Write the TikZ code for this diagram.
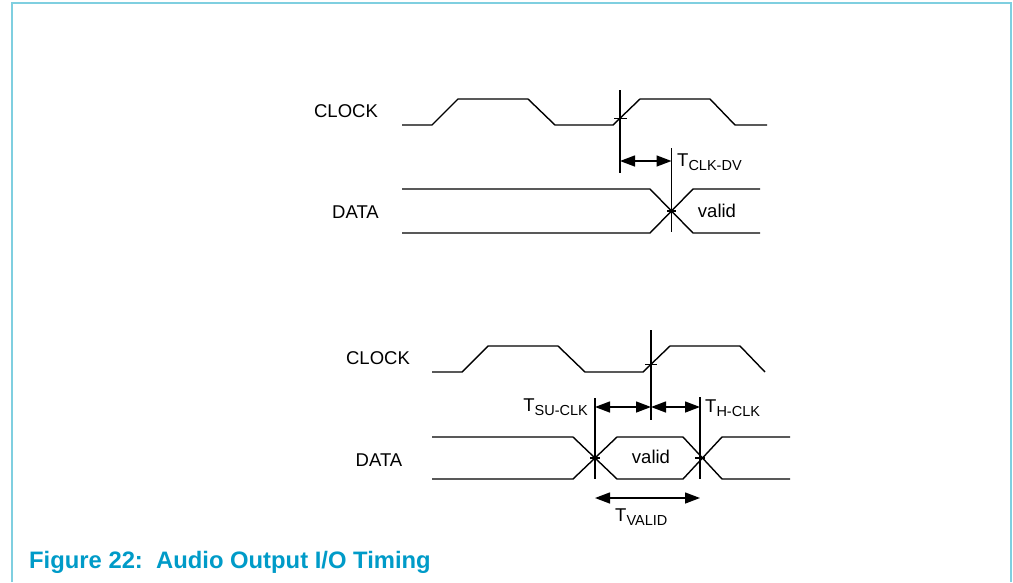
\documentclass[tikz,border=0pt]{standalone}
\usepackage{fontspec}
\setmainfont{Liberation Sans}
\usepackage{tikz}
\usetikzlibrary{arrows.meta}
\definecolor{framecyan}{RGB}{127,207,224}
\definecolor{titleblue}{RGB}{0,155,200}
\tikzset{wave/.style={line width=1.4pt},
  mark line/.style={line width=1.5pt},
  dim arrow/.style={line width=1.4pt, {Triangle[length=15pt,width=11pt]}-{Triangle[length=15pt,width=11pt]}},
  sig/.style={font=\fontsize{18.5}{20}\selectfont, inner sep=0pt},
  tlabel/.style={font=\fontsize{18.5}{20}\selectfont, inner sep=0pt, anchor=base west}}
\newcommand{\tsub}[1]{T\raisebox{-4.7pt}{\fontsize{14.5}{16}\selectfont #1}}

\begin{document}
\begin{tikzpicture}[x=1pt,y=-1pt]
\useasboundingbox (0,0) rectangle (1013,582);
\draw[color=framecyan,line width=2pt] (12,582)--(12,3)--(1011,3)--(1011,582);
% top diagram
\node[sig] (clkA) at (346,111.5) {CLOCK};
\node[sig] (datA) at (355.5,212) {DATA};
\draw[wave] (402,125)--(432,125)--(458,99)--(528,99)--(555,125)--(613,125)--(640,99)--(710,99)--(735,125)--(767,125);
\draw[wave] (402,189)--(650,189)--(693,233)--(760,233);
\draw[wave] (402,233)--(650,233)--(693,189)--(760,189);
\coordinate (edgeA) at (620,118.3);
\coordinate (crossA) at (671.5,211);
\draw[mark line] (620,90)--(620,173);
\draw[mark line] (671.5,148)--(671.5,232);
\draw[mark line] (614,118.3)--(627,118.3);
\draw[mark line] (667,211)--(676,211);
\draw[dim arrow] (620,161)--(671.5,161);
\node[tlabel] (tdv) at (677,166) {\tsub{CLK-DV}};
\node[sig] (validA) at (717,211) {valid};
% bottom diagram
\node[sig] (clkB) at (378,358) {CLOCK};
\node[sig] (datB) at (379,460) {DATA};
\draw[wave] (432,372)--(462,372)--(488,346)--(558,346)--(585,372)--(643,372)--(670,346)--(740,346)--(765,372);
\draw[wave] (432,437)--(573,437)--(617,479)--(683,479)--(722,437)--(790,437);
\draw[wave] (432,479)--(573,479)--(617,437)--(683,437)--(722,479)--(790,479);
\draw[mark line] (651,330)--(651,420);
\draw[mark line] (595,398)--(595,479);
\draw[mark line] (700,397)--(700,479);
\draw[mark line] (645,364.5)--(657,364.5);
\draw[mark line] (590,458)--(600,458);
\draw[mark line] (695,458)--(705,458);
\draw[dim arrow] (595,407)--(651,407);
\draw[dim arrow] (651,407)--(700,407);
\draw[dim arrow] (595,498)--(700,498);
\node[tlabel,anchor=base east] (tsu) at (588,411) {\tsub{SU-CLK}};
\node[tlabel] (th) at (705,412) {\tsub{H-CLK}};
\node[tlabel] (tval) at (615,521) {\tsub{VALID}};
\node[sig] (validB) at (651,457) {valid};
% caption
\node[anchor=base west,inner sep=0pt,text=titleblue,font=\fontsize{23.8}{26}\selectfont\bfseries] (cap) at (29,568) {Figure 22:\ \ Audio Output I/O Timing};
\end{tikzpicture}
\end{document}
